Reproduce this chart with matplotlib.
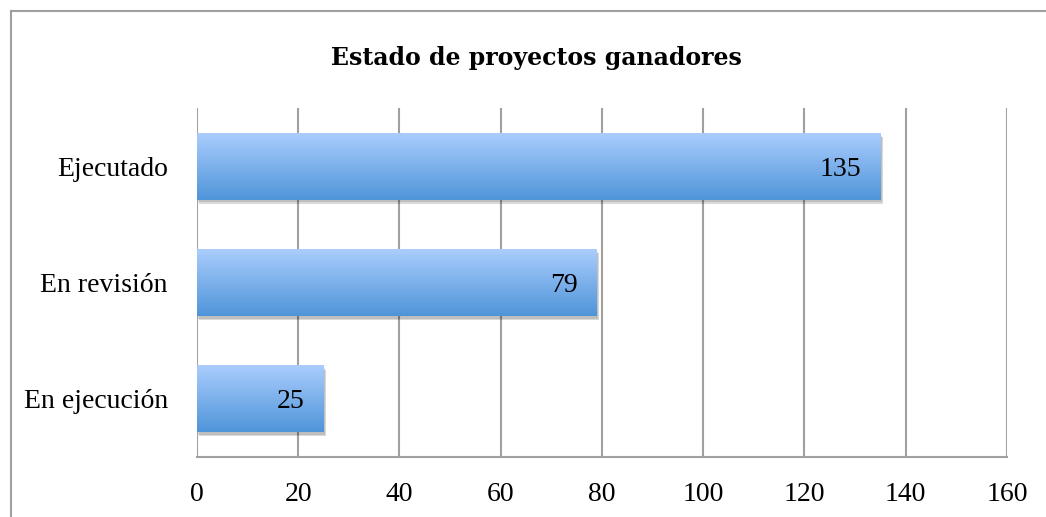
import matplotlib.pyplot as plt
import matplotlib.patheffects as pe
from matplotlib.lines import Line2D
from matplotlib.colors import LinearSegmentedColormap
import numpy as np

plt.rcParams['font.family'] = ['Liberation Serif', 'DejaVu Serif']

categories = ['En ejecución', 'En revisión', 'Ejecutado']
values = [25, 79, 135]
xticks = [0, 20, 40, 60, 80, 100, 120, 140, 160]

fig = plt.figure(figsize=(10.46, 5.17), dpi=100)
ax = fig.add_axes([0.1883, 0.116, 0.7744, 0.675])

y = np.arange(len(categories))
shadow = [pe.SimplePatchShadow(offset=(1.5, -3), shadow_rgbFace='#000000', alpha=0.15),
          pe.SimplePatchShadow(offset=(1, -2), shadow_rgbFace='#000000', alpha=0.12),
          pe.Normal()]
bars = ax.barh(y, values, height=0.575, color='#7aaee8', zorder=3, path_effects=shadow)

# vertical gradient on each bar
grad = np.linspace(0, 1, 256).reshape(-1, 1)
cmap = LinearSegmentedColormap.from_list('bar', ['#4f94d9', '#aacdfd'])
for b in bars:
    x0, y0 = b.get_x(), b.get_y()
    w, h = b.get_width(), b.get_height()
    im = ax.imshow(grad, cmap=cmap, aspect='auto', origin='lower',
                   extent=(x0, x0 + w, y0, y0 + h), zorder=4)
    im.set_clip_path(b)

for v, yy in zip(values, y):
    ax.text(v - 3.8, yy, str(v), ha='right', va='center_baseline', fontsize=20, zorder=5)

ax.set_xlim(0, 160)
ax.set_ylim(-0.5, len(categories) - 0.5)
ax.set_xticks(xticks)
ax.set_yticks(y)
ax.set_yticklabels(categories)
ax.tick_params(axis='x', length=0, pad=18, labelsize=20)
ax.tick_params(axis='y', length=0, pad=21, labelsize=20)
for lab in ax.get_yticklabels():
    lab.set_verticalalignment('center_baseline')
ax.grid(axis='x', color='#a0a0a0', linewidth=1.5, zorder=0)
ax.set_axisbelow(True)
for s in ['top', 'right', 'left']:
    ax.spines[s].set_visible(False)
ax.spines['bottom'].set_color('#a0a0a0')
ax.spines['bottom'].set_linewidth(1.5)

fig.text(0.513, 0.888, 'Estado de proyectos ganadores', ha='center', va='center',
         fontsize=17, fontweight='bold', family='DejaVu Serif')

# outer chart frame (cut off at right and bottom)
fx = 10.5 / 1046
fy = 1 - 10.5 / 517
fig.add_artist(Line2D([fx, fx], [0, fy], transform=fig.transFigure, color='#a0a0a0', lw=1.5))
fig.add_artist(Line2D([fx, 1], [fy, fy], transform=fig.transFigure, color='#a0a0a0', lw=1.5))

fig.savefig('out.png', dpi=100)
